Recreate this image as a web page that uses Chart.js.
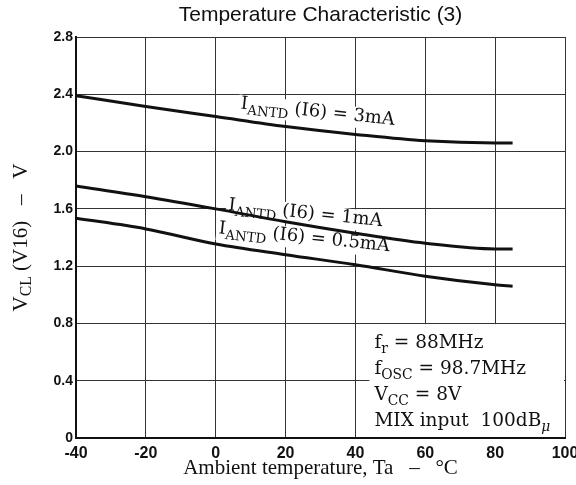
<!DOCTYPE html>
<html>
<head>
<meta charset="utf-8">
<script src="https://cdn.jsdelivr.net/npm/chart.js@4"></script>
<style>
  html, body { margin: 0; padding: 0; background: #fff; }
  #wrap { width: 576px; height: 485px; }
</style>
</head>
<body>
<div id="wrap"><canvas id="c" width="576" height="485"></canvas></div>
<script>
// ---- data ----
const temps = [-40, -20, 0, 20, 40, 60, 80, 85];
const vcl3mA = [2.39, 2.315, 2.245, 2.175, 2.12, 2.075, 2.06, 2.06];
const vcl1mA = [1.76, 1.685, 1.60, 1.51, 1.43, 1.36, 1.32, 1.32];
const vcl05mA = [1.535, 1.46, 1.355, 1.28, 1.21, 1.13, 1.07, 1.06];
const seriesNames = ['3mA', '1mA', '0.5mA'];
const xTickValues = [-40, -20, 0, 20, 40, 60, 80, 100];
const yTickValues = [0, 0.4, 0.8, 1.2, 1.6, 2.0, 2.4, 2.8];
const yTickLabels = ['0', '0.4', '0.8', '1.2', '1.6', '2.0', '2.4', '2.8'];
const titleText = 'Temperature Characteristic (3)';
const xTitleText = 'Ambient temperature, Ta   \u2013   \u00B0C';
// curve label anchors (temperature, voltage) for the start of each label
const labelT = [7.0, 3.5, 0.7];
const labelV = [2.30, 1.592, 1.43];
const conditionLines = [
  [{t: 'f'}, {t: 'r', sub: true}, {t: ' = 88MHz'}],
  [{t: 'f'}, {t: 'OSC', sub: true}, {t: ' = 98.7MHz'}],
  [{t: 'V'}, {t: 'CC', sub: true}, {t: ' = 8V'}],
  [{t: 'MIX input  100dB'}, {t: '\u03BC', sub: true, it: true}]
];

const wideSerif = '"DejaVu Serif", "Liberation Serif", serif';
const timesSerif = '"Liberation Serif", "DejaVu Serif", serif';

function toPts(vals) { return temps.map((t, i) => ({x: t, y: vals[i]})); }

function fontFor(s, size, fam) {
  return (s.it ? 'italic ' : '') + (s.sub ? size * 0.75 : size) + 'px ' + fam;
}
function segWidth(ctx, segs, size, fam) {
  let w = 0;
  segs.forEach(s => { ctx.font = fontFor(s, size, fam); w += ctx.measureText(s.t).width; });
  return w;
}
function drawRich(ctx, x, y, segs, size, fam) {
  let cx = x;
  segs.forEach(s => {
    ctx.font = fontFor(s, size, fam);
    ctx.fillText(s.t, cx, s.sub ? y + size * 0.28 : y);
    cx += ctx.measureText(s.t).width;
  });
  return cx - x;
}

const annot = {
  id: 'annot',
  beforeDatasetsDraw(chart) {
    const {ctx, scales: {x, y}} = chart;
    ctx.save();
    ctx.textBaseline = 'alphabetic';
    ctx.textAlign = 'left';
    const size = 18;
    seriesNames.forEach((n, i) => {
      const segs = [{t: 'I'}, {t: 'ANTD', sub: true}, {t: ' (I6) = ' + n}];
      const w = segWidth(ctx, segs, size, wideSerif);
      ctx.save();
      ctx.translate(x.getPixelForValue(labelT[i]), y.getPixelForValue(labelV[i]));
      ctx.rotate(6 * Math.PI / 180);
      ctx.fillStyle = '#fff';
      ctx.fillRect(-2, -14, w + 4, 21);
      ctx.fillStyle = '#111';
      drawRich(ctx, 0, 0, segs, size, wideSerif);
      ctx.restore();
    });
    // condition box
    const bx = x.getPixelForValue(44);
    const by = y.getPixelForValue(0.795);
    const br = x.getPixelForValue(100) - 1;
    const bb = y.getPixelForValue(0) - 1;
    ctx.fillStyle = '#fff';
    ctx.fillRect(bx, by, br - bx, bb - by);
    ctx.fillStyle = '#111';
    conditionLines.forEach((segs, i) => {
      drawRich(ctx, bx + 5, by + 24 + i * 26, segs, 18.5, wideSerif);
    });
    ctx.restore();
  },
  afterDraw(chart) {
    const {ctx, chartArea} = chart;
    ctx.save();
    ctx.fillStyle = '#111';
    ctx.textBaseline = 'middle';
    const segs = [{t: 'V'}, {t: 'CL', sub: true}, {t: ' (V16)   \u2013   V'}];
    const size = 21;
    const w = segWidth(ctx, segs, size, timesSerif);
    ctx.translate(21, (chartArea.top + chartArea.bottom) / 2);
    ctx.rotate(-Math.PI / 2);
    drawRich(ctx, -w / 2, 0, segs, size, timesSerif);
    ctx.restore();
  }
};

new Chart(document.getElementById('c'), {
  type: 'scatter',
  data: {
    datasets: [vcl3mA, vcl1mA, vcl05mA].map((v, i) => ({
      label: seriesNames[i],
      data: toPts(v),
      showLine: true,
      borderColor: '#111',
      backgroundColor: '#111',
      borderWidth: 3,
      pointRadius: 0,
      cubicInterpolationMode: 'monotone'
    }))
  },
  options: {
    responsive: false,
    devicePixelRatio: 1,
    animation: false,
    layout: { padding: { left: 0, right: 11, top: 0, bottom: 0 } },
    plugins: {
      legend: { display: false },
      tooltip: { enabled: false },
      title: {
        display: true,
        text: titleText,
        fullSize: false,
        color: '#111',
        font: { family: '"Liberation Sans", Arial, sans-serif', size: 21, weight: 'normal' },
        padding: { top: 2.5, bottom: 9.3 }
      }
    },
    scales: {
      x: {
        type: 'linear',
        min: -40, max: 100,
        afterBuildTicks: s => { s.ticks = xTickValues.map(v => ({value: v})); },
        afterFit: s => { s.height = 47; s.paddingRight = 11; s.paddingLeft = 0; },
        grid: { color: '#333', lineWidth: 1, drawTicks: false },
        border: { color: '#111', width: 2 },
        ticks: {
          color: '#111', padding: 6, maxRotation: 0,
          font: { family: '"Liberation Sans", Arial, sans-serif', size: 16, weight: 'bold' }
        },
        title: {
          display: true, text: xTitleText, color: '#111',
          font: { family: timesSerif, size: 21 },
          padding: { top: 0, bottom: 4 }
        }
      },
      y: {
        type: 'linear',
        min: 0, max: 2.8,
        afterBuildTicks: s => { s.ticks = yTickValues.map(v => ({value: v})); },
        afterFit: s => { s.width = 76; },
        grid: { color: '#333', lineWidth: 1, drawTicks: false },
        border: { color: '#111', width: 2 },
        ticks: {
          color: '#111', padding: 3,
          font: { family: '"Liberation Sans", Arial, sans-serif', size: 14, weight: 'bold' },
          callback: (v) => { const i = yTickValues.findIndex(t => Math.abs(t - v) < 1e-6); return i >= 0 ? yTickLabels[i] : ''; }
        }
      }
    }
  },
  plugins: [annot]
});
</script>
</body>
</html>
